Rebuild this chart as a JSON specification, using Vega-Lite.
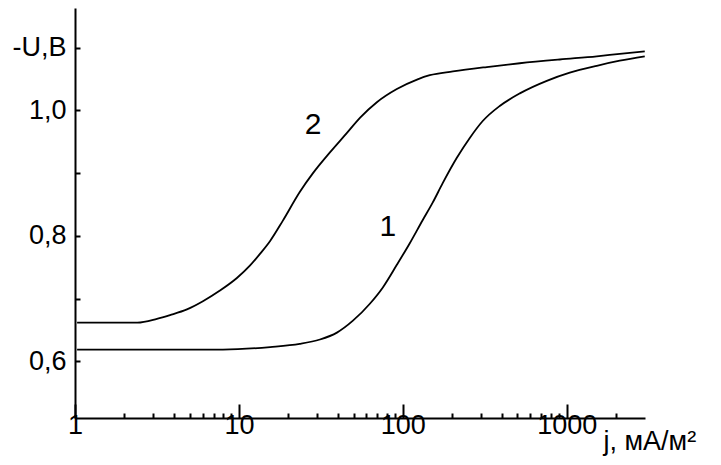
{
  "$schema": "https://vega.github.io/schema/vega-lite/v6.json",
  "width": 570,
  "height": 410,
  "autosize": {"type": "none"},
  "padding": {"left": 75, "top": 8, "right": 76, "bottom": 47},
  "background": "white",
  "config": {
    "view": {"stroke": null},
    "axis": {
      "labelFont": "Liberation Sans",
      "titleFont": "Liberation Sans",
      "labelColor": "black",
      "titleColor": "black",
      "domainColor": "black",
      "tickColor": "black",
      "domainWidth": 2,
      "tickWidth": 2,
      "grid": false,
      "labelFontWeight": "normal",
      "titleFontWeight": "normal"
    }
  },
  "layer": [
    {
      "data": {
        "values": [
          {"curve": "2", "j": 1.03, "U": 0.662},
          {"curve": "2", "j": 2.4, "U": 0.662},
          {"curve": "2", "j": 3.16, "U": 0.668},
          {"curve": "2", "j": 3.8, "U": 0.674},
          {"curve": "2", "j": 4.82, "U": 0.683},
          {"curve": "2", "j": 6.03, "U": 0.696},
          {"curve": "2", "j": 7.66, "U": 0.713},
          {"curve": "2", "j": 9.72, "U": 0.733},
          {"curve": "2", "j": 11.7, "U": 0.753},
          {"curve": "2", "j": 13.4, "U": 0.771},
          {"curve": "2", "j": 15.5, "U": 0.792},
          {"curve": "2", "j": 18.5, "U": 0.824},
          {"curve": "2", "j": 23.5, "U": 0.87},
          {"curve": "2", "j": 28.3, "U": 0.9},
          {"curve": "2", "j": 35.9, "U": 0.933},
          {"curve": "2", "j": 45.6, "U": 0.964},
          {"curve": "2", "j": 54.7, "U": 0.988},
          {"curve": "2", "j": 69.4, "U": 1.013},
          {"curve": "2", "j": 91.9, "U": 1.034},
          {"curve": "2", "j": 122, "U": 1.049},
          {"curve": "2", "j": 146, "U": 1.056},
          {"curve": "2", "j": 202, "U": 1.062},
          {"curve": "2", "j": 325, "U": 1.069},
          {"curve": "2", "j": 517, "U": 1.075},
          {"curve": "2", "j": 906, "U": 1.081},
          {"curve": "2", "j": 1524, "U": 1.086},
          {"curve": "2", "j": 2105, "U": 1.09},
          {"curve": "2", "j": 2990, "U": 1.094},
          {"curve": "1", "j": 1.03, "U": 0.619},
          {"curve": "1", "j": 7.99, "U": 0.619},
          {"curve": "1", "j": 15.5, "U": 0.623},
          {"curve": "1", "j": 23.5, "U": 0.628},
          {"curve": "1", "j": 31.2, "U": 0.635},
          {"curve": "1", "j": 39.6, "U": 0.646},
          {"curve": "1", "j": 49.6, "U": 0.665},
          {"curve": "1", "j": 62.9, "U": 0.692},
          {"curve": "1", "j": 75.5, "U": 0.718},
          {"curve": "1", "j": 91.9, "U": 0.754},
          {"curve": "1", "j": 110, "U": 0.788},
          {"curve": "1", "j": 132, "U": 0.825},
          {"curve": "1", "j": 152, "U": 0.853},
          {"curve": "1", "j": 175, "U": 0.884},
          {"curve": "1", "j": 213, "U": 0.924},
          {"curve": "1", "j": 256, "U": 0.956},
          {"curve": "1", "j": 307, "U": 0.983},
          {"curve": "1", "j": 390, "U": 1.007},
          {"curve": "1", "j": 517, "U": 1.027},
          {"curve": "1", "j": 755, "U": 1.047},
          {"curve": "1", "j": 1043, "U": 1.06},
          {"curve": "1", "j": 1524, "U": 1.071},
          {"curve": "1", "j": 2105, "U": 1.079},
          {"curve": "1", "j": 2990, "U": 1.086}
        ]
      },
      "mark": {"type": "line", "color": "black", "strokeWidth": 1.8, "interpolate": "monotone"},
      "encoding": {
        "x": {
          "field": "j",
          "type": "quantitative",
          "scale": {"type": "log", "domain": [1, 3000], "nice": false},
          "axis": {
            "values": [1, 2, 3, 4, 5, 6, 7, 8, 9, 10, 20, 30, 40, 50, 60, 70, 80, 90, 100, 200, 300, 400, 500, 600, 700, 800, 900, 1000, 2000],
            "labelExpr": "datum.value == 1 ? '1' : datum.value == 10 ? '10' : datum.value == 100 ? '100' : datum.value == 1000 ? '1000' : ''",
            "labelFontSize": 27,
            "labelPadding": 8,
            "labelFlush": false,
            "labelOverlap": false,
            "tickSize": {"condition": {"test": "datum.value == 1 || datum.value == 10 || datum.value == 100 || datum.value == 1000", "value": -14}, "value": -5},
            "title": "j, мА/м²",
            "titleFontSize": 27,
            "titleAlign": "left",
            "titleBaseline": "alphabetic",
            "titleX": 528,
            "titleY": 31
          }
        },
        "y": {
          "field": "U",
          "type": "quantitative",
          "scale": {"domain": [0.51, 1.163], "zero": false, "nice": false},
          "axis": {
            "values": [0.6, 0.7, 0.8, 0.9, 1.0, 1.1],
            "labelExpr": "abs(datum.value - 1.1) < 0.01 ? '-U,B' : (abs(datum.value - 0.7) < 0.01 || abs(datum.value - 0.9) < 0.01) ? '' : replace(format(datum.value, '.1f'), '.', ',')",
            "labelFontSize": 27,
            "labelPadding": 14,
            "labelOverlap": false,
            "tickSize": -5,
            "title": null
          }
        },
        "detail": {"field": "curve"}
      }
    },
    {
      "data": {
        "values": [
          {"j": 28.3, "U": 0.976, "label": "2"},
          {"j": 81, "U": 0.814, "label": "1"}
        ]
      },
      "mark": {"type": "text", "font": "Liberation Sans", "fontSize": 30, "color": "black", "align": "center", "baseline": "middle"},
      "encoding": {
        "x": {"field": "j", "type": "quantitative"},
        "y": {"field": "U", "type": "quantitative"},
        "text": {"field": "label"}
      }
    }
  ]
}
